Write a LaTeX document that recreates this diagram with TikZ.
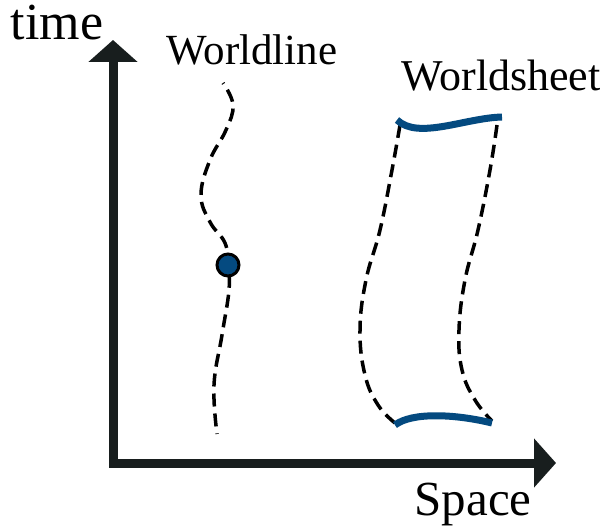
\documentclass[tikz,border=0pt]{standalone}
\usepackage{fontspec}
\setmainfont{Liberation Serif}
\usetikzlibrary{arrows.meta}
\definecolor{axiscol}{RGB}{24,30,30}
\definecolor{sheetblue}{RGB}{4,74,128}
\begin{document}
\begin{tikzpicture}[x=1pt,y=-1pt,
  axis/.style={draw=axiscol,line width=9pt,line join=miter,line cap=rect},
  dashline/.style={draw=black,line width=3.5pt,dash pattern=on 13pt off 7pt},
  edgeline/.style={draw=sheetblue,line width=7pt},
  lbl/.style={anchor=base,inner sep=0pt,text=black}]
\useasboundingbox (0,0) rectangle (610,529);
% axes
\coordinate (origin) at (113,463);
\coordinate (ttip) at (113,40);
\coordinate (stip) at (556,463);
\draw[axis,{Triangle[length=22pt,width=48pt]}-{Triangle[length=22pt,width=48pt]}] (ttip) -- (origin) -- (stip);
% labels
\node[lbl,font=\fontsize{52}{60}\selectfont] (timelbl) at (57,40) {time};
\node[lbl,font=\fontsize{43}{50}\selectfont] (wllbl) at (252,65) {Worldline};
\node[lbl,font=\fontsize{44}{50}\selectfont] (wslbl) at (501,91) {Worldsheet};
\node[lbl,font=\fontsize{49}{56}\selectfont] (splbl) at (473,515) {Space};
% worldline
\draw[dashline,dash phase=12pt] plot[smooth,tension=0.7] coordinates
  {(223,83) (233,105) (226,130) (210,160) (201,195) (210,222) (225,243) (228,265) (229,290) (222,335) (214,385) (217,434)};
\node[circle,draw=black,fill=sheetblue,line width=3pt,minimum size=22pt,inner sep=0pt] (particle) at (228,265) {};
% worldsheet
\draw[dashline] plot[smooth,tension=0.7] coordinates
  {(400,125) (392,170) (380,230) (366,280) (360,330) (365,375) (378,405) (395,423)};
\draw[dashline] plot[smooth,tension=0.7] coordinates
  {(497,125) (490,170) (478,230) (465,280) (459,330) (462,370) (475,400) (492,421)};
\coordinate (tl) at (397,120);
\coordinate (tr) at (502,117);
\coordinate (bl) at (395,425);
\coordinate (br) at (492,423);
\draw[edgeline] (tl) .. controls (418,140) and (465,118) .. (tr);
\draw[edgeline] (bl) .. controls (412,412) and (455,414) .. (br);
\end{tikzpicture}
\end{document}
